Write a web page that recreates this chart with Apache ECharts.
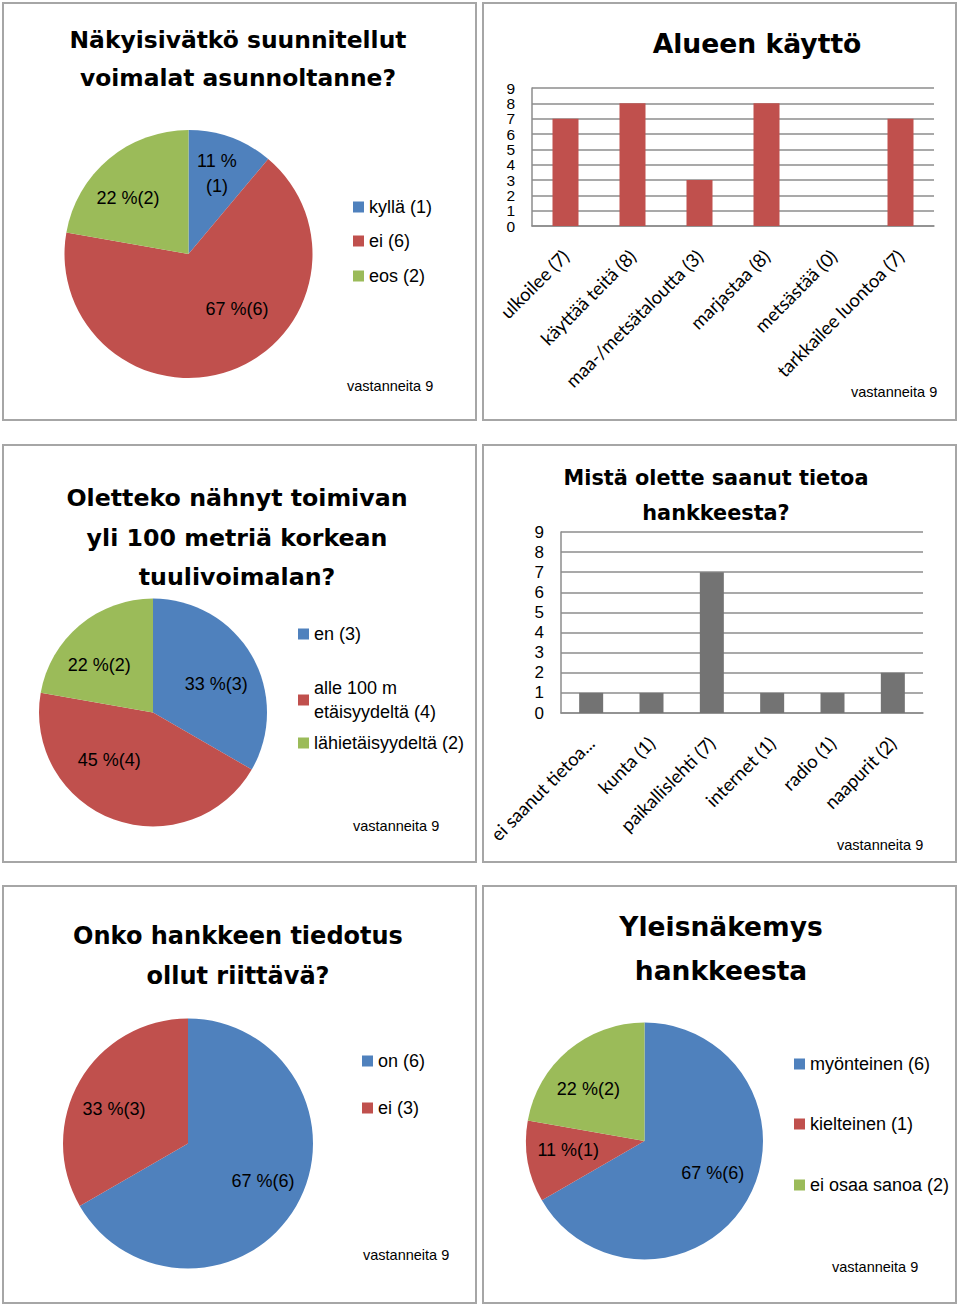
<!DOCTYPE html>
<html>
<head>
<meta charset="utf-8">
<script src="https://cdn.jsdelivr.net/npm/echarts@6/dist/echarts.min.js"></script>
<style>
html,body{margin:0;padding:0;background:#fff;}
#c{width:960px;height:1308px;}
</style>
</head>
<body>
<div id="c"></div>
<script>
// ---------- DATA ----------
const pie1Names = ['kyllä (1)', 'ei (6)', 'eos (2)'];
const pie1Values = [1, 6, 2];
const pie1Pct = ['11 %', '67 %', '22 %'];

const bar1Cats = ['ulkoilee (7)', 'käyttää teitä (8)', 'maa-/metsätaloutta (3)', 'marjastaa (8)', 'metsästää (0)', 'tarkkailee luontoa (7)'];
const bar1Values = [7, 8, 3, 8, 0, 7];
const bar1TickLabels = ['0', '1', '2', '3', '4', '5', '6', '7', '8', '9'];

const pie2Names = ['en (3)', 'alle 100 m\netäisyydeltä (4)', 'lähietäisyydeltä (2)'];
const pie2Values = [3, 4, 2];
const pie2Pct = ['33 %', '45 %', '22 %'];

const bar2Cats = ['ei saanut tietoa...', 'kunta (1)', 'paikallislehti (7)', 'internet (1)', 'radio (1)', 'naapurit (2)'];
const bar2Values = [1, 1, 7, 1, 1, 2];

const pie3Names = ['on (6)', 'ei (3)'];
const pie3Values = [6, 3];
const pie3Pct = ['67 %', '33 %'];

const pie4Names = ['myönteinen (6)', 'kielteinen (1)', 'ei osaa sanoa (2)'];
const pie4Values = [6, 1, 2];
const pie4Pct = ['67 %', '11 %', '22 %'];

const titles = [
  'Näkyisivätkö suunnitellut\nvoimalat asunnoltanne?',
  'Alueen käyttö',
  'Oletteko nähnyt toimivan\nyli 100 metriä korkean\ntuulivoimalan?',
  'Mistä olette saanut tietoa\nhankkeesta?',
  'Onko hankkeen tiedotus\nollut riittävä?',
  'Yleisnäkemys\nhankkeesta'
];
const note = 'vastanneita 9';

// ---------- STYLE / LAYOUT ----------
const BLUE = '#4F81BD', RED = '#C0504D', GREEN = '#9BBB59', GRAY = '#737373';
const ARIAL = '"Liberation Sans", Arial, sans-serif';
const TITLEFONT = '"DejaVu Sans", "Liberation Sans", sans-serif';
const CALIBRI = 'Lato, "Open Sans", sans-serif';

const chart = echarts.init(document.getElementById('c'), null, {renderer: 'svg', width: 960, height: 1308});

const panels = [
  {x: 3, y: 3}, {x: 483, y: 3},
  {x: 3, y: 445}, {x: 483, y: 445},
  {x: 3, y: 886}, {x: 483, y: 886}
];
const PW = 473, PH = 417;

const titleLayout = [
  {x: 238, y: 40, lh: 38, fs: 23.4},
  {x: 757, y: 43, lh: 38, fs: 26.6},
  {x: 237, y: 498, lh: 39.5, fs: 23.7},
  {x: 716, y: 478, lh: 35, fs: 20.8},
  {x: 238, y: 936, lh: 40, fs: 24},
  {x: 721, y: 926, lh: 44, fs: 26.5}
];
const noteLayout = [
  {x: 347, y: 386}, {x: 851, y: 392},
  {x: 353, y: 826}, {x: 837, y: 845},
  {x: 363, y: 1255}, {x: 832, y: 1267}
];

const graphic = [];
panels.forEach(p => graphic.push({
  type: 'rect', shape: {x: p.x, y: p.y, width: PW, height: PH},
  style: {fill: 'none', stroke: '#a6a6a6', lineWidth: 2}, silent: true, z: 0
}));
titles.forEach((t, i) => {
  const L = titleLayout[i];
  graphic.push({
    type: 'text', x: L.x, y: L.y - L.lh / 2, silent: true,
    style: {text: t, fill: '#000', font: 'bold ' + L.fs + 'px ' + TITLEFONT,
      textAlign: 'center', textVerticalAlign: 'top', lineHeight: L.lh}
  });
});
noteLayout.forEach(L => graphic.push({
  type: 'text', x: L.x, y: L.y, silent: true,
  style: {text: note, fill: '#000', font: '14.5px ' + ARIAL, textAlign: 'left', textVerticalAlign: 'middle'}
}));

// pies (layout: centre, radius, label radius fraction, label nudges, legend item centres)
const pieDefs = [
  {names: pie1Names, values: pie1Values, pct: pie1Pct, colors: [BLUE, RED, GREEN], cx: 188.5, cy: 254, r: 124, f: 0.67, breakIdx: [0],
   nudge: [[0, -2], [20, -23], [-7, 8]], legendLeft: 353, legendCenters: [207, 241, 276]},
  {names: pie2Names, values: pie2Values, pct: pie2Pct, colors: [BLUE, RED, GREEN], cx: 153, cy: 712.5, r: 114, f: 0.61, breakIdx: [],
   nudge: [[3, 6], [-20, -18], [-9, 6]], legendLeft: 298, legendCenters: [634, 700, 743]},
  {names: pie3Names, values: pie3Values, pct: pie3Pct, colors: [BLUE, RED], cx: 188, cy: 1143.5, r: 125, f: 0.665, breakIdx: [],
   nudge: [[3, -4], [-2, 7]], legendLeft: 362, legendCenters: [1061, 1108]},
  {names: pie4Names, values: pie4Values, pct: pie4Pct, colors: [BLUE, RED, GREEN], cx: 644.5, cy: 1141, r: 118.5, f: 0.645, breakIdx: [],
   nudge: [[2, -6], [-1, -4], [-7, 7]], legendLeft: 794, legendCenters: [1064, 1124, 1185]}
];

const LEG_LH = 24;
const series = [];
const legends = [];
pieDefs.forEach((d, k) => {
  series.push({
    type: 'pie', center: [d.cx, d.cy], radius: [0, d.r], startAngle: 90, clockwise: true,
    silent: true, label: {show: false}, labelLine: {show: false},
    itemStyle: {borderWidth: 0},
    data: d.names.map((n, i) => ({name: n, value: d.values[i], itemStyle: {color: d.colors[i]}}))
  });
  const R = 2 * (d.f * d.r - 3);
  series.push({
    type: 'pie', center: [d.cx, d.cy], radius: [0, R], startAngle: 90, clockwise: true,
    silent: true, labelLine: {show: false}, z: 5,
    itemStyle: {color: 'rgba(0,0,0,0)', borderWidth: 0},
    label: {show: true, position: 'inside', color: '#000', fontFamily: ARIAL, fontSize: 18, lineHeight: 25,
      formatter: p => d.pct[p.dataIndex] + (d.breakIdx.includes(p.dataIndex) ? '\n' : '') + '(' + p.value + ')'},
    data: d.names.map((n, i) => ({name: 'lbl' + k + '_' + i, value: d.values[i], label: {offset: d.nudge[i]}}))
  });
  d.names.forEach((n, i) => {
    const lines = n.split('\n').length;
    legends.push({
      show: true, orient: 'vertical', left: d.legendLeft, top: d.legendCenters[i] - lines * LEG_LH / 2,
      itemWidth: 11, itemHeight: 11, icon: 'rect', selectedMode: false, padding: 0,
      textStyle: {color: '#000', fontFamily: ARIAL, fontSize: 18, lineHeight: LEG_LH, padding: 0},
      data: [n]
    });
  });
});

// bar charts
const grids = [
  {left: 532, top: 88, width: 402, height: 138, outerBoundsMode: 'none', containLabel: false},
  {left: 561, top: 532, width: 362, height: 181, outerBoundsMode: 'none', containLabel: false}
];
const barDefs = [
  {cats: bar1Cats, values: bar1Values, color: RED, bw: 26, yfs: 16.5, tickLabels: bar1TickLabels},
  {cats: bar2Cats, values: bar2Values, color: GRAY, bw: 24, yfs: 17, tickLabels: null}
];
const xAxis = [], yAxis = [];
barDefs.forEach((b, i) => {
  xAxis.push({
    type: 'category', gridIndex: i, data: b.cats,
    axisLine: {show: true, lineStyle: {color: '#8c8c8c', width: 1.5}},
    axisTick: {show: false},
    axisLabel: {rotate: 45, interval: 0, margin: 27, color: '#000', fontFamily: CALIBRI, fontSize: 18.5}
  });
  yAxis.push({
    type: 'value', gridIndex: i, min: 0, max: 9, interval: 1,
    axisLine: {show: true, lineStyle: {color: '#8c8c8c', width: 1.5}},
    axisTick: {show: false},
    splitLine: {show: true, lineStyle: {color: '#8c8c8c', width: 1.5}},
    axisLabel: {show: !b.tickLabels, margin: 17, color: '#000', fontFamily: ARIAL, fontSize: b.yfs,
      showMinLabel: true, showMaxLabel: true, hideOverlap: false}
  });
  series.push({
    type: 'bar', xAxisIndex: i, yAxisIndex: i, data: b.values, barWidth: b.bw,
    itemStyle: {color: b.color}, silent: true
  });
});
// dense tick labels for the first bar chart (all ten are shown, tightly packed as in the original)
yAxis.push({
  type: 'category', gridIndex: 0, position: 'left', data: bar1TickLabels, boundaryGap: false,
  axisLine: {show: false}, axisTick: {show: false}, splitLine: {show: false},
  axisLabel: {show: true, interval: 0, margin: 17, color: '#000', fontFamily: ARIAL, fontSize: 15.5, lineHeight: 14.5}
});

chart.setOption({
  animation: false,
  backgroundColor: '#fff',
  grid: grids,
  xAxis, yAxis,
  legend: legends,
  series,
  graphic
});
</script>
</body>
</html>
